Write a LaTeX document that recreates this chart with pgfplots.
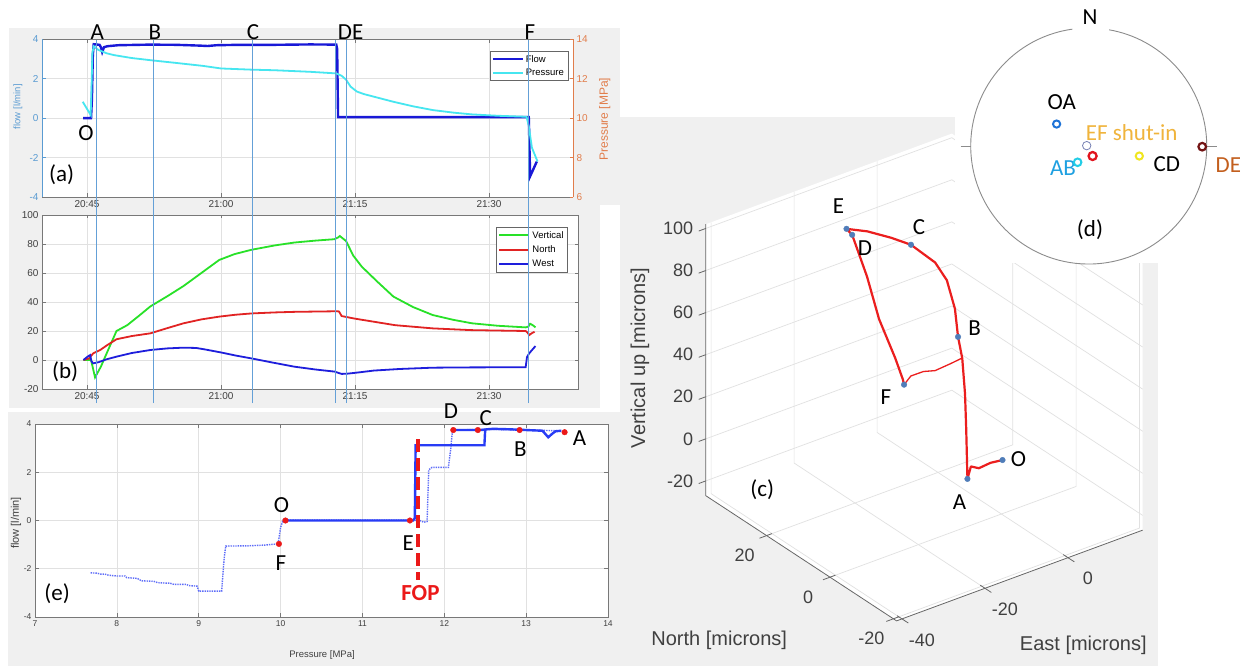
\documentclass[border=0pt]{standalone}
\usepackage{pgfplots}
\pgfplotsset{compat=1.18}
\usepackage{fontspec}
\setmainfont{Liberation Sans}
\newfontfamily\calfont{Carlito}

\definecolor{bgray}{RGB}{240,240,240}
\definecolor{evline}{RGB}{100,160,215}
\definecolor{flowblue}{RGB}{25,25,215}
\definecolor{prescyan}{RGB}{70,230,240}
\definecolor{flowlab}{RGB}{90,155,210}
\definecolor{preslab}{RGB}{225,125,75}
\definecolor{vgreen}{RGB}{40,225,40}
\definecolor{nred}{RGB}{225,35,35}
\definecolor{wblue}{RGB}{30,30,220}
\definecolor{eblue}{RGB}{40,60,245}
\definecolor{dotred}{RGB}{235,25,25}
\definecolor{trackred}{RGB}{235,30,30}
\definecolor{ptblue}{RGB}{80,125,185}
\definecolor{gridc}{RGB}{225,225,225}
\definecolor{axc}{RGB}{120,120,120}
\definecolor{txtc}{RGB}{64,64,64}
\definecolor{oaC}{RGB}{30,115,215}
\definecolor{abC}{RGB}{35,205,230}
\definecolor{abT}{RGB}{30,160,225}
\definecolor{efT}{RGB}{240,180,60}
\definecolor{redR}{RGB}{225,20,30}
\definecolor{yelR}{RGB}{240,230,30}
\definecolor{deR}{RGB}{115,20,20}
\definecolor{deT}{RGB}{195,95,30}
\definecolor{navyR}{RGB}{120,130,180}

\pgfplotsset{
  panel/.style={
    scale only axis,
    axis background/.style={fill=white},
    grid=major,
    major grid style={draw=gridc, line width=0.5pt},
    tick style={draw=axc, line width=0.5pt},
    major tick length=3.5pt,
    axis line style={draw=axc, line width=0.6pt},
    tick label style={font=\fontsize{10}{12}\selectfont, text=txtc},
    /pgf/number format/assume math mode=true,
  },
  timeaxis/.style={
    xtick={45,60,75,90},
    xticklabels={20:45,21:00,21:15,21:30},
  },
  legline/.style={
    legend image code/.code={\draw[##1, line width=2pt] (0pt,0pt) -- (30pt,0pt);},
    legend cell align=left,
  },
}

\tikzset{
  grid3/.style={draw=gridc, line width=0.7pt},
  axis3/.style={draw=black!60, line width=0.8pt},
  tick3/.style={font=\fontsize{18}{20}\selectfont, text=txtc},
}

\newcommand{\clab}[3]{\node[font=\calfont\fontsize{23}{25}\selectfont] at (#1,#2) {#3};}

\begin{document}
\begin{tikzpicture}[x=1pt,y=1pt]

% panel backgrounds
\fill[bgray] (8.5,461) rectangle (620,638);
\fill[bgray] (8.5,258) rectangle (600,461);
\fill[bgray] (8,0) rectangle (640,254);
\fill[bgray] (620,0) rectangle (1158,549);
% back walls and floor of the 3-D box
\fill[white] (705.7,170.3) -- (705.7,441.7) -- (951.8,532.4) -- (1142.7,407.2)
  -- (1142.7,135.8) -- (896.6,45.1) -- cycle;

% (c) displacement track; East = x, North = y, Vertical = z
\begin{axis}[
  at={(1001.4pt,208.8pt)}, anchor=origin,
  x={(4.15pt,1.53pt)}, y={(-3.17pt,2.08pt)}, z={(0pt,2.104pt)},
  xmin=-41.3, xmax=18, ymin=-21, ymax=39.2, zmin=-27, zmax=102,
  hide axis, clip=false,
]
% grid on the back walls and the floor
\pgfplotsinvokeforeach{-20,0,20,40,60,80,100}{
  \draw[grid3] (axis cs:-41.3,39.2,#1) -- (axis cs:18,39.2,#1) -- (axis cs:18,-21,#1);
}
\pgfplotsinvokeforeach{-40,-20,0}{
  \draw[grid3] (axis cs:#1,-21,-27) -- (axis cs:#1,39.2,-27) -- (axis cs:#1,39.2,102);
}
\pgfplotsinvokeforeach{-20,0,20}{
  \draw[grid3] (axis cs:-41.3,#1,-27) -- (axis cs:18,#1,-27) -- (axis cs:18,#1,102);
}
% axis lines, ticks and tick labels
\draw[axis3] (axis cs:-41.3,39.2,102) -- (axis cs:-41.3,39.2,-27) -- (axis cs:-41.3,-21,-27)
  -- (axis cs:18,-21,-27);
\pgfplotsinvokeforeach{-20,0,20,40,60,80,100}{
  \draw[axis3] (axis cs:-41.3,39.2,#1) -- (axis cs:-43,39.2,#1);
  \node[tick3, anchor=east, xshift=-9pt] at (axis cs:-41.3,39.2,#1) {#1};
}
\pgfplotsinvokeforeach{-20,0,20}{
  \draw[axis3] (axis cs:-40,#1,-27) -- (axis cs:-43,#1,-27);
  \node[tick3, xshift=-22pt, yshift=-20pt] at (axis cs:-41.3,#1,-27) {#1};
}
\pgfplotsinvokeforeach{-40,-20,0}{
  \draw[axis3] (axis cs:#1,-19.5,-27) -- (axis cs:#1,-23,-27);
  \node[tick3, xshift=20pt, yshift=-21pt] at (axis cs:#1,-21,-27) {#1};
}
\addplot3[trackred, line width=2.2pt, line join=round] coordinates {
  (-0.5,-1.0,0) (-2.0,0.8,-2) (-3.6,2.4,-5) (-4.9,3.2,-4) (-4.9,4.3,-11)
  (-1.3,9.4,5) (0.4,12.0,18) (2.4,15.5,30) (3.3,18.0,37) (4.0,19.9,48)
  (4.5,23.1,58) (2.9,24.7,66) (-1.55,26.5,75.9) (-4.5,28.9,79) (-8.4,31.3,82.5)
  (-12.5,32.5,85.5) (-11.9,31.5,83.2) (-12.9,25.5,70) (-13.6,20.8,55)
  (-11.9,17.9,38) (-9.3,18.9,25) (-9.1,18.8,22.5)
};
\addplot3[trackred, line width=1.3pt, line join=round] coordinates {
  (-9.1,18.8,22.5) (-6.0,20.7,22.5) (-3.5,20.0,23.5) (-1.0,19.6,22.5) (3.1,20.0,22.5) (6.1,20.4,22.5)
};
\addplot3[only marks, mark=*, mark size=2.8pt, color=ptblue] coordinates {
  (-0.5,-1.0,0) (-4.9,4.3,-11) (3.3,18.0,37) (-1.55,26.5,75.9)
  (-11.9,31.5,83.2) (-12.5,32.5,85.5) (-9.1,18.8,22.5)
};
\end{axis}

\node[rotate=90, font=\fontsize{20}{22}\selectfont, text=txtc] at (640,308) {Vertical up [microns]};
\node[font=\fontsize{20}{22}\selectfont, text=txtc] at (719.2,26) {North [microns]};
\node[font=\fontsize{20}{22}\selectfont, text=txtc] at (1083.3,21) {East [microns]};
\clab{838.4}{460.3}{E}
\clab{919}{439}{C}
\clab{865}{417.7}{D}
\clab{974.7}{338}{B}
\clab{886}{269}{F}
\clab{1018.6}{206.7}{O}
\clab{959.6}{164.2}{A}
\clab{762.3}{176.6}{(c)}

% (d) stereonet
\fill[white] (955,403) rectangle (1245,666);
\begin{axis}[
  at={(1088.7pt,520pt)}, anchor=origin, x=118pt, y=118pt,
  xmin=-1.2, xmax=1.2, ymin=-1.2, ymax=1.2, hide axis, clip=false,
]
\draw[black!45, line width=0.9pt] (axis cs:-0.139,0.990) arc[start angle=98, end angle=440, radius=118pt];
\draw[black!45, line width=0.9pt] (axis cs:-1.085,0) -- (axis cs:-1,0);
\draw[black!45, line width=0.9pt] (axis cs:1,0) -- (axis cs:1.085,0);
\addplot[only marks, mark=o, mark size=3.6pt, mark options={draw=oaC, line width=2pt}] coordinates {(-0.272,0.186)};
\addplot[only marks, mark=o, mark size=4.2pt, mark options={draw=navyR, line width=0.8pt}] coordinates {(-0.017,0.003)};
\addplot[only marks, mark=o, mark size=4pt, mark options={draw=redR, line width=2.3pt}] coordinates {(0.033,-0.085)};
\addplot[only marks, mark=o, mark size=3.8pt, mark options={draw=abC, line width=2pt}] coordinates {(-0.094,-0.138)};
\addplot[only marks, mark=o, mark size=3.6pt, mark options={draw=yelR, line width=2pt}] coordinates {(0.429,-0.085)};
\addplot[only marks, mark=o, mark size=3.8pt, mark options={draw=deR, line width=2.2pt}] coordinates {(0.962,-0.006)};
\node[font=\calfont\fontsize{23}{25}\selectfont] at (axis cs:0.011,1.096) {N};
\node[font=\calfont\fontsize{23}{25}\selectfont] at (axis cs:-0.229,0.375) {OA};
\node[font=\calfont\fontsize{23}{25}\selectfont, text=efT] at (axis cs:0.364,0.113) {EF shut-in};
\node[font=\calfont\fontsize{23}{25}\selectfont, text=abT] at (axis cs:-0.218,-0.186) {AB};
\node[font=\calfont\fontsize{23}{25}\selectfont] at (axis cs:0.661,-0.155) {CD};
\node[font=\calfont\fontsize{23}{25}\selectfont, text=deT] at (axis cs:1.183,-0.161) {DE};
\node[font=\calfont\fontsize{23}{25}\selectfont] at (axis cs:0.011,-0.712) {(d)};
\end{axis}

% (a) flow and pressure against time
\begin{axis}[panel, timeaxis,
  at={(42pt,469pt)}, anchor=south west, width=531pt, height=157.7pt,
  xmin=39.96, xmax=99.4, ymin=-4, ymax=4, ytick={-4,-2,0,2,4},
  axis x line*=box, axis y line*=left,
  y axis line style={draw=flowlab},
  ytick style={draw=flowlab},
  yticklabel style={text=flowlab},
]
\addplot[flowblue, line width=2.4pt] coordinates {
  (44.55,0) (45.45,0) (45.55,1.0) (45.65,3.2) (45.75,3.75) (46.4,3.72) (46.55,3.6)
  (46.7,3.35) (46.9,3.6) (47.3,3.65) (48.5,3.7) (52,3.73) (55,3.72) (57.6,3.68)
  (58.5,3.66) (59.5,3.7) (62,3.72) (66,3.72) (70,3.74) (72.9,3.73) (73.0,3.5)
  (73.1,0.05) (80,0.05) (88,0.05) (94.45,0.05) (94.6,-2.95) (95.35,-2.2)
};
\end{axis}
\begin{axis}[
  scale only axis, at={(42pt,469pt)}, anchor=south west, width=531pt, height=157.7pt,
  xmin=39.96, xmax=99.4, ymin=6, ymax=14, ytick={6,8,10,12,14},
  axis x line=none, axis y line*=right,
  y axis line style={draw=preslab, line width=0.6pt},
  ytick style={draw=preslab, line width=0.5pt},
  major tick length=3.5pt,
  yticklabel style={font=\fontsize{10}{12}\selectfont, text=preslab},
  /pgf/number format/assume math mode=true,
  legline,
  legend style={at={(0.9906,0.926)}, anchor=north east, draw=black!60, fill=white,
    font=\fontsize{9.5}{11}\selectfont, inner sep=2pt, row sep=1pt},
]
\addlegendimage{flowblue}
\addlegendentry{Flow}
\addplot[prescyan, line width=1.8pt] coordinates {
  (44.52,10.83) (45.41,10.16) (45.5,11.5) (45.6,13.3) (45.75,13.65) (46.27,13.46)
  (47.2,13.29) (48,13.2) (50,13.05) (52.3,12.93) (55,12.8) (58,12.65) (60,12.52)
  (63.4,12.46) (66,12.43) (70,12.35) (72.9,12.27) (73.5,12.15) (74.0,11.95)
  (74.5,11.6) (75.2,11.35) (76,11.22) (77.1,11.09) (79.3,10.83) (81.5,10.6)
  (83.7,10.41) (86,10.28) (88.1,10.19) (91,10.12) (94.2,10.07) (94.45,9.6)
  (94.8,8.5) (95.43,7.8)
};
\addlegendentry{Pressure}
\end{axis}
\node[rotate=90, font=\fontsize{9.5}{11}\selectfont, text=flowlab] at (17.8,559.3) {flow [l/min]};
\node[rotate=90, font=\fontsize{12}{14}\selectfont, text=preslab] at (604.7,546.8) {Pressure [MPa]};

% (b) displacement components against time
\begin{axis}[panel, timeaxis,
  at={(42pt,277pt)}, anchor=south west, width=536pt, height=174pt,
  xmin=39.96, xmax=99.96, ymin=-20, ymax=100, ytick={-20,0,20,40,60,80,100},
  legline,
  legend style={at={(0.981,0.931)}, anchor=north east, draw=black!60, fill=white,
    font=\fontsize{9.5}{11}\selectfont, inner sep=2pt, row sep=2pt},
]
\addplot[vgreen, line width=1.8pt] coordinates {
  (44.6,0) (45.45,0) (45.9,-12) (46.55,-4.6) (47.2,4.6) (47.8,13) (48.3,20)
  (49.5,24) (50.7,29.9) (52.1,37) (54,44) (55.8,51) (57.8,60) (59.8,69) (61.5,73)
  (63.4,76) (66,79) (68.2,81) (70.5,82.3) (72.7,83.3) (73.1,84.5) (73.3,85.5)
  (73.6,84) (74.0,82) (74.8,72) (75.75,64.4) (77.5,54) (79.3,43.7) (81.5,36.5)
  (83.7,31) (86,27.7) (88.1,25.3) (91,23.6) (94.1,22.5) (94.4,23) (94.6,25)
  (94.9,24) (95.2,22.5)
};
\addlegendentry{Vertical}
\addplot[nred, line width=1.8pt] coordinates {
  (44.6,0) (45.2,1) (45.7,4.6) (46.5,7) (47.2,10) (48.3,14.3) (50,16.5) (52.1,18.4)
  (54,22) (55.8,25.3) (57.8,28) (59.8,29.9) (61.6,31.2) (63.4,32.1) (66,32.8)
  (68.2,33.2) (70.5,33.4) (72.9,33.6) (73.2,33.5) (73.5,30.3) (75,28.5) (77.1,26.4)
  (79.5,24) (83.7,21.8) (88,20.6) (94.1,20) (94.3,19) (94.5,17.2) (94.8,18.5) (95.1,19.5)
};
\addlegendentry{North}
\addplot[wblue, line width=1.8pt] coordinates {
  (44.6,0) (45.1,2.5) (45.35,3.4) (45.5,-1) (45.7,-2.3) (46.3,-1.5) (47.2,0.5)
  (48.3,2.3) (50,4.8) (52.1,6.9) (54,8) (55.8,8.5) (57.2,8.3) (58.1,7.4) (60,5.2)
  (61.7,3) (63.4,1.1) (65.8,-1.8) (68.2,-4.6) (70.5,-6.5) (72.7,-8) (73.5,-9.6)
  (74.2,-9.4) (75.5,-8.5) (77.1,-7.3) (80,-6.2) (83.7,-5.3) (88,-5.1) (94.1,-5)
  (94.25,2) (94.5,4.6) (94.9,7.5) (95.2,9.6)
};
\addlegendentry{West}
\end{axis}

% event markers shared by (a) and (b)
\begin{axis}[scale only axis, at={(42pt,277pt)}, anchor=south west, width=536pt, height=174pt,
  xmin=39.96, xmax=99.96, ymin=-20, ymax=100, hide axis, clip=false]
\addplot[draw=evline, line width=1pt] coordinates {(46.1,-29.7) (46.1,221)};
\addplot[draw=evline, line width=1pt] coordinates {(52.45,-29.7) (52.45,221)};
\addplot[draw=evline, line width=1pt] coordinates {(63.47,-29.7) (63.47,221)};
\addplot[draw=evline, line width=1pt] coordinates {(72.87,-29.7) (72.87,221)};
\addplot[draw=evline, line width=1pt] coordinates {(74.1,-29.7) (74.1,221)};
\addplot[draw=evline, line width=1pt] coordinates {(94.43,-29.7) (94.43,221)};
\end{axis}

\clab{97.4}{634.3}{A}
\clab{155}{634.3}{B}
\clab{253}{634.3}{C}
\clab{350.6}{634.3}{DE}
\clab{530}{634.3}{F}
\clab{86}{533}{O}
\clab{61.7}{491}{(a)}
\clab{65.2}{294.3}{(b)}

% (e) flow against pressure
\begin{axis}[panel,
  at={(35pt,49pt)}, anchor=south west, width=573pt, height=193pt,
  xmin=7, xmax=14, ymin=-4, ymax=4, xtick={7,8,...,14}, ytick={-4,-2,0,2,4},
  tick label style={font=\fontsize{8.5}{10}\selectfont, text=txtc},
]
\addplot[eblue!75, line width=1.4pt, densely dotted] coordinates {
  (7.68,-2.17) (7.75,-2.18) (7.8,-2.22) (7.85,-2.22) (7.9,-2.27) (8.0,-2.3) (8.1,-2.3)
  (8.12,-2.37) (8.25,-2.4) (8.3,-2.5) (8.45,-2.52) (8.5,-2.58) (8.65,-2.6) (8.7,-2.65)
  (8.85,-2.65) (8.88,-2.7) (8.98,-2.72) (9.0,-2.93) (9.28,-2.93) (9.31,-1.6) (9.33,-1.06)
  (9.6,-1.05) (9.8,-1.02) (9.97,-0.97) (10.0,-0.3) (10.03,0.02) (11.5,0.02) (11.7,0.0)
  (11.75,-0.07) (11.79,-0.04) (11.81,2.1) (11.85,2.2) (12.05,2.2) (12.08,3.0) (12.1,3.75)
  (12.5,3.78) (13.0,3.75) (13.4,3.72)
};
\addplot[eblue, line width=2.4pt] coordinates {
  (10.05,0) (11.62,0) (11.64,0.1) (11.65,3.12) (12.0,3.12) (12.49,3.12) (12.5,3.78)
};
\addplot[eblue, line width=2.4pt] coordinates {
  (12.11,3.75) (12.45,3.75) (12.52,3.78) (12.6,3.8) (12.8,3.78) (13.0,3.75)
  (13.2,3.72) (13.27,3.45) (13.32,3.6) (13.36,3.7) (13.43,3.72)
};
\addplot[dotred, line width=4pt, dash pattern=on 13pt off 6pt] coordinates {(11.68,3.36) (11.68,-2.45)};
\addplot[only marks, mark=*, mark size=2.8pt, color=dotred] coordinates {
  (10.06,0) (11.58,0) (9.98,-0.97) (12.11,3.75) (12.41,3.75) (12.92,3.75) (13.47,3.66)
};
\end{axis}
\node[rotate=90, font=\fontsize{11}{13}\selectfont, text=txtc] at (16,143) {flow [l/min]};
\node[font=\fontsize{9.5}{11}\selectfont, text=txtc] at (322,11) {Pressure [MPa]};
\clab{451}{255}{D}
\clab{485.7}{247.7}{C}
\clab{520.4}{216.7}{B}
\clab{579.6}{227.7}{A}
\clab{281.6}{161}{O}
\clab{408.2}{122.7}{E}
\clab{280.8}{102.7}{F}
\node[font=\calfont\bfseries\fontsize{23}{25}\selectfont, text=dotred] at (420.4,72.7) {FOP};
\clab{57.1}{72.7}{(e)}

\pgfresetboundingbox
\path (0,0) rectangle (1245,666);
\end{tikzpicture}
\end{document}
